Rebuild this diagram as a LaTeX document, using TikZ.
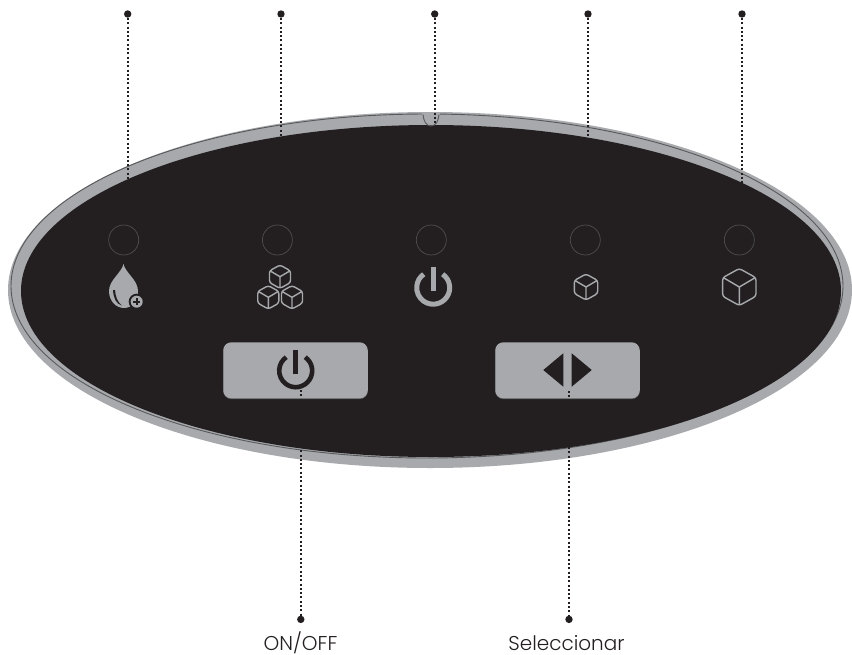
\documentclass[tikz,border=0pt]{standalone}
\usepackage{fontspec}
\setmainfont{Poppins Light}
\usetikzlibrary{positioning}
\definecolor{panelblack}{HTML}{231F20}
\definecolor{panelgray}{HTML}{A7A9AC}
\definecolor{rimline}{HTML}{58595B}
\definecolor{ledring}{HTML}{4D4D4F}
\tikzset{
  led/.style={draw=ledring, circle, line width=0.7pt, minimum size=30pt, inner sep=0pt},
  button/.style={fill=panelgray, rounded corners=8pt, minimum width=144.5pt, minimum height=56pt, inner sep=0pt,
    preaction={fill=rimline, transform canvas={yshift=-0.8pt}}},
  dotmark/.style={circle, fill=panelblack, minimum size=7.4pt, inner sep=0pt},
  leader/.style={draw=panelblack, line width=1.8pt, dash pattern=on 2pt off 2.3pt},
  label/.style={font=\fontsize{20}{24}\selectfont, text=panelblack, inner sep=0pt},
  icon/.style={draw=panelgray, line width=1.4pt, rounded corners=2.5pt},
  pics/cube/.style={code={
    \draw[icon, pic actions] (0,-1) -- (0.9,-0.5) -- (0.9,0.5) -- (0,1) -- (-0.9,0.5) -- (-0.9,-0.5) -- cycle;
    \draw[icon, rounded corners=0pt, pic actions] (-0.85,-0.5) -- (0,0) -- (0.85,-0.5) (0,0) -- (0,0.93);
  }},
  pics/power/.style={code={
    \draw[pic actions, line cap=butt] (-55:16.5) arc[start angle=-55, end angle=235, radius=16.5];
    \draw[pic actions, line cap=butt, line width=4.8pt] (0,-21) -- (0,3.5);
  }},
}
\begin{document}
\begin{tikzpicture}[x=1pt, y=-1pt]
  \useasboundingbox (0,0) rectangle (852,654);
  % panel
  \fill[panelgray] (430,290) circle[x radius=422, y radius=178];
  \draw[rimline, line width=0.9pt] (427,286) circle[x radius=416, y radius=172];
  \fill[panelblack] (431,291) circle[x radius=410, y radius=166];
  % notch
  \fill[panelgray] (422,113) rectangle (440,123);
  \draw[rimline, line width=0.9pt] (423,114.5) .. controls (424,122) and (426,125.5) .. (431,126) .. controls (436,125.5) and (438,122) .. (439,114.5);
  % lamps
  \foreach \x/\nm in {123.7/drop, 277.4/cubes, 431.3/onlamp, 585.3/small, 739.3/large} {
    \node[led] (\nm) at (\x,240) {};
  }
  % lamp icons
  \fill[panelgray] (123.5,264) .. controls (121.5,273) and (109,280) .. (109,291)
    .. controls (109,301) and (116,308) .. (124,308)
    .. controls (132,308) and (138,301) .. (138,291)
    .. controls (138,280) and (125.5,273) .. cycle;
  \fill[panelblack] (113,290) .. controls (113.5,298) and (116,304) .. (122,305.5)
    .. controls (117.5,302) and (115.5,297) .. (115,290) -- cycle;
  \fill[panelblack] (136.7,301.7) circle[radius=8];
  \fill[panelgray] (136.7,301.7) circle[radius=6];
  \draw[panelblack, line width=1.8pt] (133,301.7) -- (140.4,301.7) (136.7,298) -- (136.7,305.4);
  \pic[scale=11.7] at (280,276.7) {cube};
  \pic[scale=11.7] at (268.3,297.3) {cube};
  \pic[scale=11.7] at (292,297.3) {cube};
  \pic[draw=panelgray, line width=5pt] at (433.2,287.7) {power};
  \pic[scale=13] at (586,287) {cube};
  \pic[scale=18.5, line width=1.8pt] at (739.3,287) {cube};
  % buttons
  \node[button] (onoff) at (295.5,370.3) {};
  \node[button] (select) at (567.5,370.3) {};
  \pic[draw=panelblack, line width=4.6pt] at (295.7,370.7) {power};
  \fill[panelblack] (543.3,370) -- (563.3,353.3) -- (563.3,386.7) -- cycle;
  \fill[panelblack] (591.7,370) -- (571.7,353.3) -- (571.7,386.7) -- cycle;
  % upper leaders
  \foreach \x/\nm/\ybot in {127.7/a/180, 281/b/137, 434.7/c/125, 588/d/137, 742/e/184} {
    \node[dotmark] (top\nm) at (\x,14) {};
    \coordinate (end\nm) at (\x,\ybot);
    \draw[leader] (top\nm) -- (end\nm);
  }
  % lower leaders
  \node[dotmark] (onoffdot) at (300.8,619.4) {};
  \node[dotmark] (selectdot) at (569,619.4) {};
  \coordinate (onoffstart) at (300.8,390);
  \coordinate (selectstart) at (569,391);
  \draw[leader] (onoffstart) -- (onoffdot);
  \draw[leader] (selectstart) -- (selectdot);
  \node[label, anchor=base] (onofflabel) at (300.5,650) {ON/OFF};
  \node[label, anchor=base] (selectlabel) at (566.5,650) {Seleccionar};
\end{tikzpicture}
\end{document}
